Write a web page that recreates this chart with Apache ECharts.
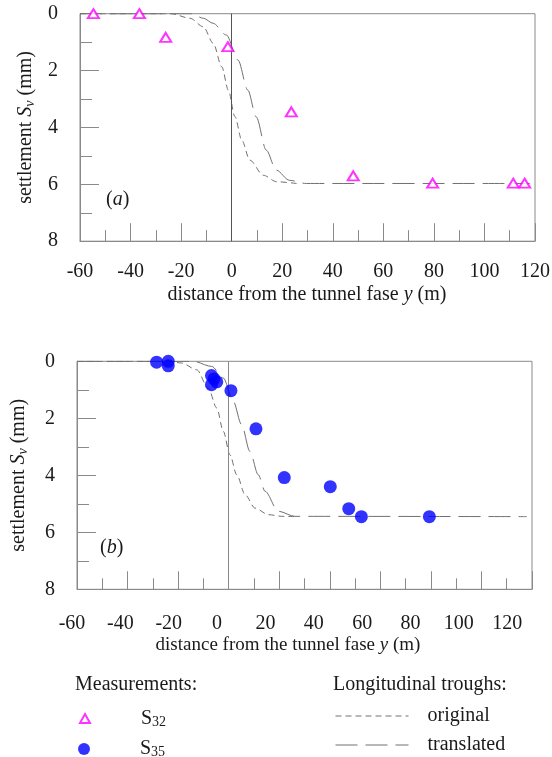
<!DOCTYPE html>
<html><head><meta charset="utf-8">
<script src="https://cdn.jsdelivr.net/npm/echarts@6/dist/echarts.min.js"></script>
<style>html,body{margin:0;padding:0;background:#fff}#c{width:552px;height:757px}</style>
</head><body><div id="c"></div>
<script>
// ---- tick labels ----
const xTickLabels = [-60, -40, -20, 0, 20, 40, 60, 80, 100, 120];
const yTickLabels = [0, 2, 4, 6, 8];

// ---- panel (a): measurements S32 ----
const s32X = [-54.7, -36.5, -26.1, -1.5, 23.6, 48.1, 79.5, 111.4, 115.9];
const s32Y = [0, 0, 0.83, 1.16, 3.45, 5.70, 5.96, 5.96, 5.96];

// ---- panel (a): troughs ----
const origAX = [-60, -24, -16.5, -11.2, -7.3, -3.9, -1.3, 1.3, 4.0, 7.2, 12.5, 17.8, 25.7];
const origAY = [0, 0, 0.16, 0.46, 1.04, 1.87, 2.69, 3.62, 4.45, 5.15, 5.68, 5.91, 5.97];
const transAX = [-60, -16, -11.2, -7.3, -2.1, 2.5, 6.4, 9.7, 13.7, 17.6, 22.9, 29.5, 118];
const transAY = [0, 0, 0.16, 0.34, 0.75, 1.63, 2.69, 3.63, 4.80, 5.50, 5.86, 5.97, 5.97];

// ---- panel (b): measurements S35 ----
const s35X = [-28.5, -23.9, -23.9, -6.8, -5.8, -4.7, -6.8, 0.9, 10.8, 22.0, 40.2, 47.5, 52.5, 79.4];
const s35Y = [0.03, 0, 0.16, 0.50, 0.62, 0.72, 0.82, 1.03, 2.37, 4.08, 4.40, 5.17, 5.45, 5.45];

// ---- panel (b): troughs ----
const origBX = [-60, -24, -18.6, -12.6, -8.1, -4.7, -2.1, 0.5, 3.2, 6.5, 10.4, 15.7, 21, 26];
const origBY = [0, 0, 0.06, 0.30, 0.94, 1.64, 2.46, 3.28, 3.98, 4.68, 5.15, 5.38, 5.44, 5.45];
const transBX = [-60, -14, -6.7, -2.1, 1.8, 5.1, 8.4, 11.7, 14.4, 19.6, 26.2, 118];
const transBY = [0, 0, 0.18, 0.59, 1.40, 2.22, 3.16, 3.98, 4.56, 5.26, 5.44, 5.45];

const F = "'Liberation Serif','Times New Roman',serif";
const TXT = '#1a1a1a';
const AX = '#8a8a8a';
const CURVE = '#707070';
const pairs = (xs, ys) => xs.map((x, i) => [x, ys[i]]);

const xMin = xTickLabels[0], xMax = xTickLabels[xTickLabels.length - 1], xStep = xTickLabels[1] - xTickLabels[0];
const yMin = yTickLabels[0], yMax = yTickLabels[yTickLabels.length - 1], yStep = yTickLabels[1] - yTickLabels[0];

// label shift for the lower panel (the original's lower labels sit slightly left)
const richB = {};
xTickLabels.forEach((v, i) => {
  const s = 5 + i * 2.2;
  richB['t' + i] = { fontSize: 20, fontFamily: F, color: TXT, padding: [0, 2 * s, 0, 0] };
});

function xAxisCfg(grid, margin, lower) {
  return {
    type: 'value', gridIndex: grid, min: xMin, max: xMax, interval: xStep,
    axisLine: { show: true, onZero: false, lineStyle: { color: AX, width: 1 } },
    axisTick: { show: true, inside: true, length: 18, lineStyle: { color: AX, width: 1 } },
    minorTick: { show: true, splitNumber: 2, length: 11, lineStyle: { color: AX, width: 1 } },
    splitLine: { show: false },
    axisLabel: lower ? {
      margin: margin, fontSize: 20, fontFamily: F, color: TXT,
      formatter: v => { const i = xTickLabels.indexOf(v); return '{t' + i + '|' + v + '}'; },
      rich: richB
    } : { margin: margin, fontSize: 20, fontFamily: F, color: TXT }
  };
}
function yAxisCfg(grid, gap) {
  return {
    type: 'value', gridIndex: grid, inverse: true, min: yMin, max: yMax, interval: yStep,
    axisLine: { show: true, onZero: false, lineStyle: { color: AX, width: 1 } },
    axisTick: { show: true, inside: true, length: 19, lineStyle: { color: AX, width: 1 } },
    minorTick: { show: true, splitNumber: 2, length: 12, lineStyle: { color: AX, width: 1 } },
    splitLine: { show: false },
    axisLabel: { margin: 22, fontSize: 20, fontFamily: F, color: TXT },
    name: 'settlement {i|S}{sub|v} (mm)',
    nameLocation: 'middle', nameGap: gap,
    nameTextStyle: {
      fontSize: 20, fontFamily: F, color: TXT,
      rich: {
        i: { fontSize: 20, fontFamily: F, fontStyle: 'italic', color: TXT },
        sub: { fontSize: 14, fontFamily: F, fontStyle: 'italic', color: TXT, padding: [9, 0, 0, 0] }
      }
    }
  };
}
function curve(name, xs, ys, gi, dash, zeroColor) {
  const s = {
    type: 'line', name: name, xAxisIndex: gi, yAxisIndex: gi,
    data: pairs(xs, ys), smooth: 0.3, smoothMonotone: 'x',
    symbol: 'none', showSymbol: false,
    lineStyle: { color: CURVE, width: 1, type: dash },
    itemStyle: { color: CURVE },
    z: 3
  };
  if (zeroColor) {
    s.markLine = {
      silent: true, symbol: ['none', 'none'], label: { show: false },
      lineStyle: { type: 'solid', color: zeroColor, width: 1 },
      emphasis: { disabled: true },
      data: [{ xAxis: 0 }]
    };
  }
  return s;
}
const SHORT = [6, 4];
const LONG = [22, 8];

const legText = (pad) => ({ fontSize: 20, fontFamily: F, color: TXT, padding: [0, 0, 0, pad],
  rich: {
    s: { fontSize: 20, fontFamily: F, color: TXT },
    sub: { fontSize: 14, fontFamily: F, color: TXT, padding: [7, 0, 0, 0] }
  } });
const lineLegend = (name, top) => ({
  data: [name], left: 335, top: top, padding: 0, itemWidth: 73, itemHeight: 14,
  itemStyle: { color: 'transparent', borderColor: 'transparent', borderWidth: 0 },
  lineStyle: { color: CURVE, width: 1 },
  textStyle: { fontSize: 20, fontFamily: F, color: TXT, padding: [0, 0, 0, 14] }, selectedMode: false
});

const option = {
  animation: false,
  backgroundColor: '#fff',
  grid: [
    { left: 80, top: 13.7, width: 455, height: 227.5, show: true, borderColor: AX, borderWidth: 1,
      backgroundColor: 'transparent', containLabel: false, outerBoundsMode: 'none' },
    { left: 77, top: 361.3, width: 455, height: 228, show: true, borderColor: AX, borderWidth: 1,
      backgroundColor: 'transparent', containLabel: false, outerBoundsMode: 'none' }
  ],
  xAxis: [xAxisCfg(0, 21, false), xAxisCfg(1, 24, true)],
  yAxis: [yAxisCfg(0, 43), yAxisCfg(1, 47)],
  legend: [
    { data: ['S32'], left: 79, top: 708.5, padding: 0, itemWidth: 10, itemHeight: 9,
      formatter: () => '{s|S}{sub|32}', textStyle: legText(46), selectedMode: false },
    { data: ['S35'], left: 78, top: 739, padding: 0, itemWidth: 12, itemHeight: 12,
      formatter: () => '{s|S}{sub|35}', textStyle: legText(45), selectedMode: false },
    lineLegend('original', 706),
    lineLegend('translated', 735)
  ],
  graphic: [
    { type: 'text', x: 307, y: 295, silent: true, style: {
      text: 'distance from the tunnel fase {i|y} (m)', align: 'center', verticalAlign: 'middle',
      fontSize: 20, fontFamily: F, fill: TXT,
      rich: { i: { fontSize: 20, fontFamily: F, fontStyle: 'italic', fill: TXT } } } },
    { type: 'text', x: 288, y: 645, silent: true, style: {
      text: 'distance from the tunnel fase {i|y} (m)', align: 'center', verticalAlign: 'middle',
      fontSize: 19, fontFamily: F, fill: TXT,
      rich: { i: { fontSize: 19, fontFamily: F, fontStyle: 'italic', fill: TXT } } } },
    { type: 'text', x: 106, y: 200, silent: true, style: {
      text: '({i|a})', align: 'left', verticalAlign: 'middle', fontSize: 20, fontFamily: F, fill: TXT,
      rich: { i: { fontSize: 20, fontFamily: F, fontStyle: 'italic', fill: TXT } } } },
    { type: 'text', x: 100, y: 548, silent: true, style: {
      text: '({i|b})', align: 'left', verticalAlign: 'middle', fontSize: 20, fontFamily: F, fill: TXT,
      rich: { i: { fontSize: 20, fontFamily: F, fontStyle: 'italic', fill: TXT } } } },
    { type: 'text', x: 75, y: 685, silent: true, style: {
      text: 'Measurements:', align: 'left', verticalAlign: 'middle', fontSize: 20, fontFamily: F, fill: TXT } },
    { type: 'text', x: 333, y: 685, silent: true, style: {
      text: 'Longitudinal troughs:', align: 'left', verticalAlign: 'middle', fontSize: 20, fontFamily: F, fill: TXT } }
  ],
  series: [
    curve('original', origAX, origAY, 0, SHORT, '#555'),
    curve('translated', transAX, transAY, 0, LONG, null),
    {
      type: 'scatter', name: 'S32', xAxisIndex: 0, yAxisIndex: 0,
      data: pairs(s32X, s32Y), symbol: 'triangle', symbolSize: [11, 9],
      itemStyle: { color: '#fff', borderColor: '#ff00ff', borderWidth: 2 }, z: 5
    },
    curve('original', origBX, origBY, 1, SHORT, '#888'),
    curve('translated', transBX, transBY, 1, LONG, null),
    {
      type: 'scatter', name: 'S35', xAxisIndex: 1, yAxisIndex: 1,
      data: pairs(s35X, s35Y), symbol: 'circle', symbolSize: 13,
      itemStyle: { color: '#0000ff' }, z: 5
    }
  ]
};
const chart = echarts.init(document.getElementById('c'), null, { renderer: 'canvas' });
chart.setOption(option);
</script>
</body></html>
